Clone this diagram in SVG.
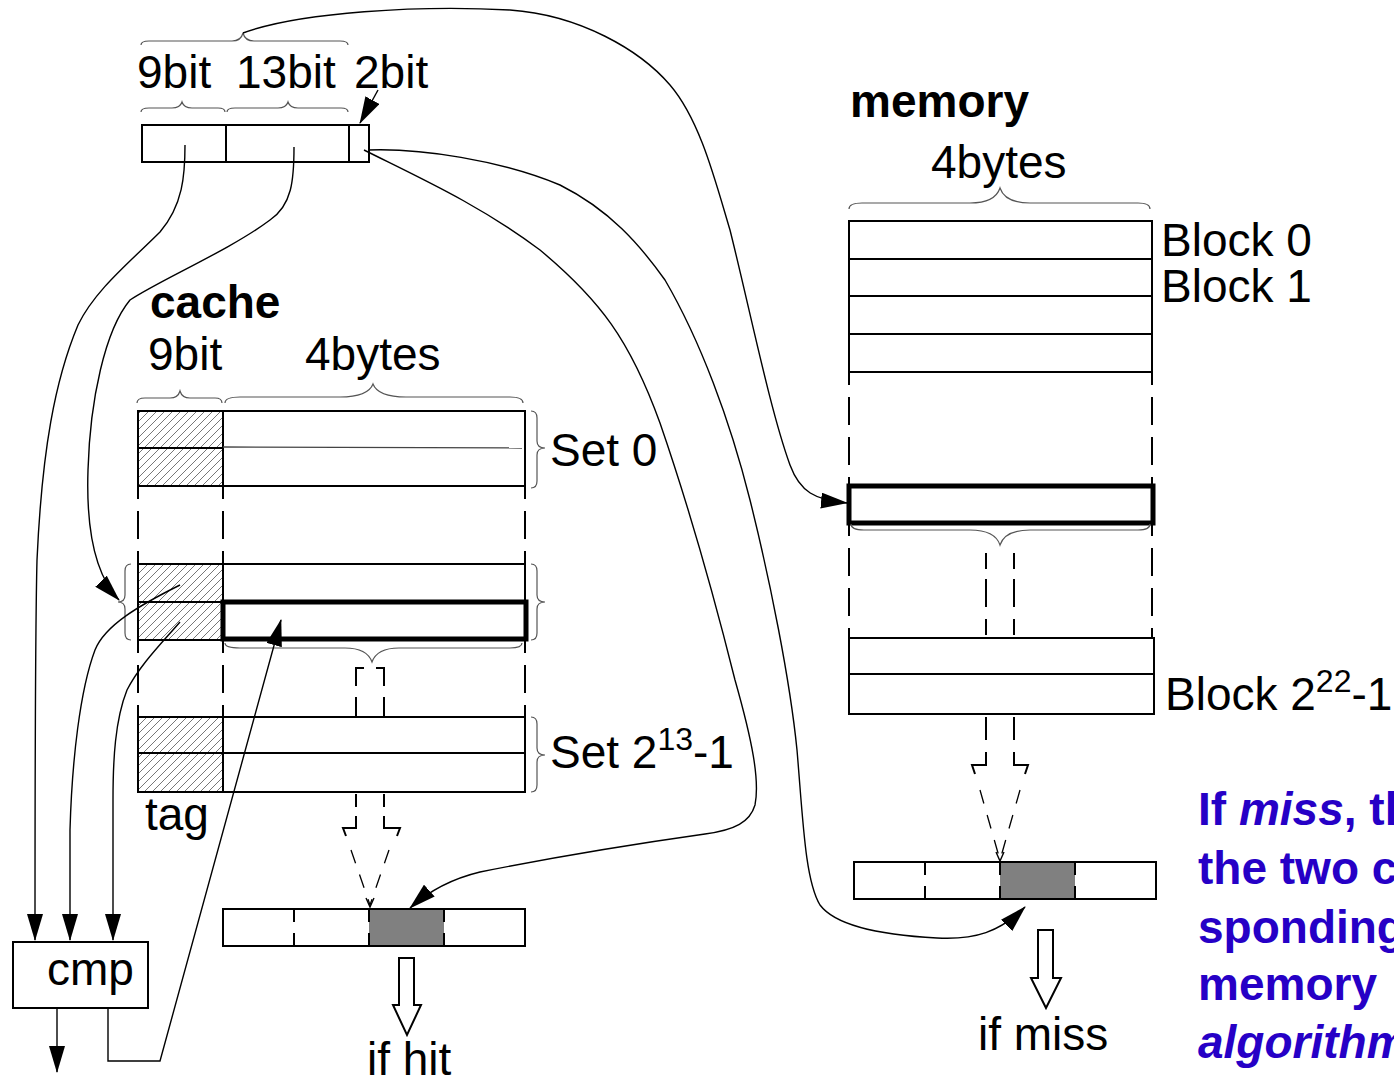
<svg xmlns="http://www.w3.org/2000/svg" width="1394" height="1077" viewBox="0 0 1394 1077">
  <defs>
    <style>
      text { font-family: "Liberation Sans", Arial, sans-serif; fill: #000; }
      .lbl { font-size: 46px; }
      .sup { font-size: 32px; }
      .bold { font-weight: bold; }
      .note { font-size: 46px; font-weight: bold; fill: #2600c6; }
      .box { fill: #fff; stroke: #000; stroke-width: 2; }
      .ln { fill: none; stroke: #000; stroke-width: 2; }
      .thick { fill: none; stroke: #000; stroke-width: 5; }
      .dash { fill: none; stroke: #000; stroke-width: 2; stroke-dasharray: 28 12; stroke-dashoffset: 15; }
      .fdash { fill: none; stroke: #000; stroke-width: 1.3; stroke-dasharray: 14 12; }
      .brace { fill: none; stroke: #555; stroke-width: 1.2; }
      .wire { fill: none; stroke: #000; stroke-width: 1.4; }
      .arr { marker-end: url(#head); }
      .hatch { fill: url(#hatch); stroke: #000; stroke-width: 2; }
      .gray { fill: #808080; }
      .hollow { fill: #fff; stroke: #000; stroke-width: 2; }
    </style>
    <pattern id="hatch" patternUnits="userSpaceOnUse" width="8" height="8">
      <rect width="8" height="8" fill="#fff"/>
      <path d="M-2,10 L10,-2 M-2,2 L2,-2 M6,10 L10,6" stroke="#777" stroke-width="1"/>
    </pattern>
    <marker id="head" viewBox="0 0 27 16" refX="26" refY="8" markerWidth="27" markerHeight="16" markerUnits="userSpaceOnUse" orient="auto">
      <path d="M0,0 L27,8 L0,16 z" fill="#000"/>
    </marker>
  </defs>

  <!-- address word: tag / index / offset -->
  <g id="address">
    <path class="brace" d="M141,45 Q141,41 149,41 L232,41 Q241,41 243,33 Q245,41 254,41 L340,41 Q348,41 348,45"/>
    <text class="lbl" x="137" y="88">9bit</text>
    <text class="lbl" x="236" y="88">13bit</text>
    <text class="lbl" x="354" y="88">2bit</text>
    <path class="brace" d="M141,112 Q141,108 149,108 L172,108 Q180,108 182,102 Q184,108 192,108 L218,108 Q225,108 225,112"/>
    <path class="brace" d="M227,112 Q227,108 235,108 L278,108 Q286,108 288,102 Q290,108 298,108 L341,108 Q348,108 348,112"/>
    <rect class="box" x="142" y="125" width="227" height="37"/>
    <line class="ln" x1="226" y1="125" x2="226" y2="162"/>
    <line class="ln" x1="349" y1="125" x2="349" y2="162"/>
  </g>

  <!-- cache -->
  <g id="cache">
    <text class="lbl bold" x="150" y="318">cache</text>
    <text class="lbl" x="148" y="370">9bit</text>
    <text class="lbl" x="305" y="370">4bytes</text>
    <path class="brace" d="M137,403 Q137,398 145,398 L170,398 Q178,398 180,391 Q182,398 190,398 L215,398 Q222,398 222,403"/>
    <path class="brace" d="M225,403 Q225,397 240,397 L340,397 Q368,397 373,384 Q378,397 406,397 L510,397 Q523,397 523,403"/>

    <!-- set 0 -->
    <rect class="hatch" x="138" y="411" width="85" height="75"/>
    <line class="ln" x1="138" y1="448" x2="223" y2="448"/>
    <rect class="box" x="223" y="411" width="302" height="75"/>
    <line x1="223" y1="447" x2="522" y2="448" stroke="#444" stroke-width="1.3"/>
    <path class="brace" d="M531,411 Q537,411 537,418 L537,441 Q537,448 545,448 Q537,448 537,455 L537,481 Q537,488 531,488"/>
    <text class="lbl" x="550" y="466">Set 0</text>

    <line class="dash" x1="138" y1="486" x2="138" y2="564"/>
    <line class="dash" x1="223" y1="486" x2="223" y2="564"/>
    <line class="dash" x1="525" y1="486" x2="525" y2="564"/>

    <!-- selected set -->
    <rect class="hatch" x="138" y="564" width="85" height="76"/>
    <line class="ln" x1="138" y1="602" x2="223" y2="602"/>
    <rect class="box" x="223" y="564" width="302" height="76"/>
    <rect class="thick" x="223" y="602" width="303" height="37"/>
    <path class="brace" d="M131,564 Q125,564 125,571 L125,595 Q125,602 118,602 Q125,602 125,609 L125,633 Q125,640 131,640"/>
    <path class="brace" d="M531,564 Q537,564 537,571 L537,595 Q537,602 545,602 Q537,602 537,609 L537,633 Q537,640 531,640"/>
    <path class="brace" d="M225,643 Q225,648 240,648 L345,648 Q367,648 372,662 Q377,648 399,648 L510,648 Q522,648 522,643"/>

    <line class="dash" x1="138" y1="640" x2="138" y2="717"/>
    <line class="dash" x1="223" y1="640" x2="223" y2="717"/>
    <line class="dash" x1="525" y1="640" x2="525" y2="717"/>
    <path class="ln" d="M356,717 V668 H364 M384,717 V668 H376" stroke-dasharray="20 11 30 10 8"/>

    <!-- last set -->
    <rect class="hatch" x="138" y="717" width="85" height="75"/>
    <line class="ln" x1="138" y1="753" x2="223" y2="753"/>
    <rect class="box" x="223" y="717" width="302" height="75"/>
    <line class="ln" x1="223" y1="753" x2="525" y2="753"/>
    <path class="brace" d="M531,717 Q537,717 537,724 L537,748 Q537,755 545,755 Q537,755 537,762 L537,785 Q537,792 531,792"/>
    <text class="lbl" x="550" y="768">Set 2<tspan class="sup" dy="-18">13</tspan><tspan dy="18">-1</tspan></text>
    <text class="lbl" x="145" y="830">tag</text>

    <!-- dashed hollow arrow to the selected word -->
    <path class="ln" d="M356,794 V807 M384,794 V807 M356,816 V828 H343 L346,836 M384,816 V828 H400 L397,836"/>
    <path class="fdash" d="M351,850 L370,905 M389,850 L370,905"/>
    <path class="wire" d="M366,898 L370,907 L374,898"/>

    <!-- word row (hit) -->
    <rect class="box" x="223" y="909" width="302" height="37"/>
    <rect class="gray" x="369" y="910" width="75" height="35"/>
    <line class="ln" x1="294" y1="909" x2="294" y2="946" stroke-dasharray="13 11 20"/>
    <line class="ln" x1="369" y1="909" x2="369" y2="946" stroke-dasharray="13 11 20"/>
    <line class="ln" x1="444" y1="909" x2="444" y2="946" stroke-dasharray="13 11 20"/>
    <polygon class="hollow" points="399,958 414,958 414,1005 421,1005 407,1035 393,1005 399,1005"/>
    <text class="lbl" x="367" y="1075">if hit</text>
  </g>

  <!-- comparator -->
  <g id="cmp">
    <rect class="box" x="13" y="942" width="135" height="66"/>
    <text class="lbl" x="47" y="985">cmp</text>
  </g>

  <!-- memory -->
  <g id="memory">
    <text class="lbl bold" x="850" y="117">memory</text>
    <text class="lbl" x="931" y="178">4bytes</text>
    <path class="brace" d="M849,209 Q849,203 862,203 L970,203 Q995,203 1000,188 Q1005,203 1030,203 L1138,203 Q1150,203 1150,209"/>
    <rect class="box" x="849" y="221" width="303" height="151"/>
    <line class="ln" x1="849" y1="259" x2="1152" y2="259"/>
    <line class="ln" x1="849" y1="296" x2="1152" y2="296"/>
    <line class="ln" x1="849" y1="334" x2="1152" y2="334"/>
    <text class="lbl" x="1161" y="256">Block 0</text>
    <text class="lbl" x="1161" y="302">Block 1</text>

    <line class="dash" x1="849" y1="372" x2="849" y2="486"/>
    <line class="dash" x1="1152" y1="372" x2="1152" y2="486"/>

    <rect class="thick" x="849" y="486" width="304" height="37"/>
    <path class="brace" d="M851,524 Q851,530 864,530 L970,530 Q995,530 1000,545 Q1005,530 1030,530 L1138,530 Q1150,530 1150,524"/>

    <line class="dash" x1="849" y1="523" x2="849" y2="638"/>
    <line class="dash" x1="1152" y1="523" x2="1152" y2="638"/>
    <path class="ln" d="M986,635 V553 H995 M1014,635 V553 H1005" stroke-dasharray="16 12 28 10 16 10 9"/>

    <rect class="box" x="849" y="638" width="305" height="76"/>
    <line class="ln" x1="849" y1="674" x2="1154" y2="674"/>
    <text class="lbl" x="1165" y="710">Block 2<tspan class="sup" dy="-18">22</tspan><tspan dy="18">-1</tspan></text>

    <!-- dashed hollow arrow to the fetched word -->
    <path class="ln" d="M986,717 V740 M1014,717 V740 M986,752 V765 H972 L975,774 M1014,752 V765 H1028 L1025,774"/>
    <path class="fdash" d="M980,790 L1000,860 M1020,790 L1000,860"/>
    <path class="wire" d="M996,852 L1000,861 L1004,852"/>

    <!-- word row (miss) -->
    <rect class="box" x="854" y="862" width="302" height="37"/>
    <rect class="gray" x="1000" y="863" width="75" height="35"/>
    <line class="ln" x1="925" y1="862" x2="925" y2="899" stroke-dasharray="13 11 20"/>
    <line class="ln" x1="1000" y1="862" x2="1000" y2="899" stroke-dasharray="13 11 20"/>
    <line class="ln" x1="1075" y1="862" x2="1075" y2="899" stroke-dasharray="13 11 20"/>
    <polygon class="hollow" points="1038,930 1053,930 1053,978 1061,978 1046,1008 1031,978 1038,978"/>
    <text class="lbl" x="978" y="1050">if miss</text>
  </g>

  <!-- side note -->
  <g id="note">
    <text class="note" x="1198" y="825">If <tspan font-style="italic">miss</tspan>, th</text>
    <text class="note" x="1198" y="884">the two c</text>
    <text class="note" x="1198" y="943">sponding</text>
    <text class="note" x="1198" y="1000">memory</text>
    <text class="note" x="1198" y="1058" font-style="italic">algorithm</text>
  </g>

  <!-- connectors -->
  <g id="connectors">
    <path class="wire arr" d="M378,90 L360,123"/>
    <path class="wire arr" d="M243,33 C300,12 420,5 510,10 C580,15 640,50 670,85 C700,120 715,180 730,230 C750,310 770,410 790,465 C800,492 815,500 847,503"/>
    <path class="wire arr" d="M368,150 C420,148 500,160 560,185 C610,210 640,245 665,280 C700,340 730,420 750,500 C770,580 790,680 797,750 C803,820 805,880 820,905 C835,925 880,935 937,938 C975,940 1000,932 1025,907"/>
    <path class="wire arr" d="M364,150 C420,178 480,205 540,250 C600,300 630,340 660,423 C690,510 715,600 735,680 C752,740 760,780 755,805 C750,822 735,830 705,834 C620,846 540,860 480,872 C455,878 430,890 410,908"/>
    <path class="wire arr" d="M185,145 C185,175 183,205 160,232 C130,262 95,290 78,325 C55,380 42,450 37,560 C35,640 35,800 35,940"/>
    <path class="wire arr" d="M294,147 C294,180 292,205 270,220 C230,250 160,280 130,300 C105,330 90,400 88,470 C86,530 95,575 119,600"/>
    <path class="wire arr" d="M180,585 C140,605 105,625 95,650 C80,690 72,760 70,830 L70,940"/>
    <path class="wire arr" d="M180,622 C160,645 140,665 127,690 C115,720 113,760 113,800 L113,940"/>
    <path class="wire arr" d="M57,1008 L57,1072"/>
    <path class="wire arr" d="M108,1008 V1061 H160 L281,620"/>
  </g>
</svg>
